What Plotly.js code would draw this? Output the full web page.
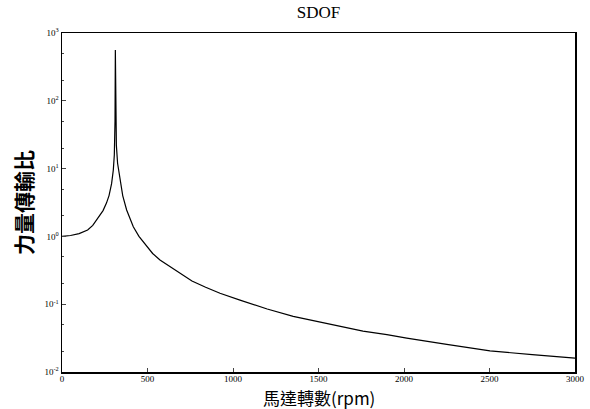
<!DOCTYPE html>
<html><head><meta charset="utf-8">
<script src="https://cdn.plot.ly/plotly-3.0.1.min.js"></script>
<style>body{margin:0;background:#fff}#c{width:590px;height:409px}</style>
</head><body><div id="c"></div>
<script>
const rpm = [0, 50, 100, 150, 180, 200, 220, 240, 260, 275, 290, 300, 306, 310, 312, 314, 318, 325, 339, 355, 378, 400, 417, 450, 495, 530, 573, 630, 690, 760, 840, 924, 1041, 1099, 1200, 1352, 1500, 1626, 1760, 1900, 2016, 2250, 2503, 2750, 3000];
const transmissibility = [1.00, 1.03, 1.10, 1.24, 1.45, 1.72, 1.98, 2.4, 3.1, 4.0, 6.0, 9.5, 16, 50, 560, 60, 22, 12, 6.8, 4.0, 2.45, 1.75, 1.39, 1.0, 0.71, 0.56, 0.45, 0.36, 0.285, 0.22, 0.178, 0.145, 0.115, 0.103, 0.085, 0.066, 0.055, 0.047, 0.040, 0.0355, 0.0315, 0.0255, 0.0205, 0.018, 0.016];
const yTickVals = [0.01, 0.1, 1, 10, 100, 1000];
const yTickText = ['10<sup>-2</sup>', '10<sup>-1</sup>', '10<sup>0</sup>', '10<sup>1</sup>', '10<sup>2</sup>', '10<sup>3</sup>'];
const xTickVals = [0, 500, 1000, 1500, 2000, 2500, 3000];
const xTitle = '馬達轉數(rpm)';

Plotly.newPlot('c', [{
  x: rpm, y: transmissibility, type: 'scatter', mode: 'lines',
  line: {color: '#000', width: 1.2}
}], {
  width: 590, height: 409,
  margin: {l: 62, r: 15, t: 33, b: 37},
  paper_bgcolor: '#fff', plot_bgcolor: '#fff',
  showlegend: false,
  title: {text: 'SDOF', x: 0.54, xanchor: 'center', y: 0.985, yanchor: 'top',
    font: {family: 'Liberation Serif, DejaVu Serif, serif', size: 17, color: '#000'}},
  xaxis: {range: [0, 3000], tickvals: xTickVals, ticks: 'inside', ticklen: 4,
    ticklabelstandoff: -2,
    showgrid: false, zeroline: false, showline: true, linecolor: '#000', linewidth: 1.5, mirror: true,
    tickfont: {family: 'Liberation Serif, serif', size: 9, color: '#000'}},
  yaxis: {type: 'log', range: [-2, 3], tickvals: yTickVals, ticktext: yTickText,
    ticks: 'inside', ticklen: 4, showgrid: false, zeroline: false,
    showline: true, linecolor: '#000', linewidth: 1.5, mirror: true,
    minor: {ticks: 'inside', ticklen: 2, showgrid: false},
    tickfont: {family: 'Liberation Serif, serif', size: 9, color: '#000'},
    title: {text: '<b>力量傳輸比</b>', standoff: 6,
      font: {family: 'Noto Sans CJK TC, sans-serif', size: 21, color: '#000'}}},
  annotations: [{text: xTitle, xref: 'paper', yref: 'paper', x: 0.5, xanchor: 'center',
    y: -0.116, yanchor: 'bottom', showarrow: false, borderpad: 0,
    font: {family: 'Noto Sans CJK TC, sans-serif', size: 17, color: '#000'}}]
}, {displayModeBar: false, staticPlot: true});
</script></body></html>
